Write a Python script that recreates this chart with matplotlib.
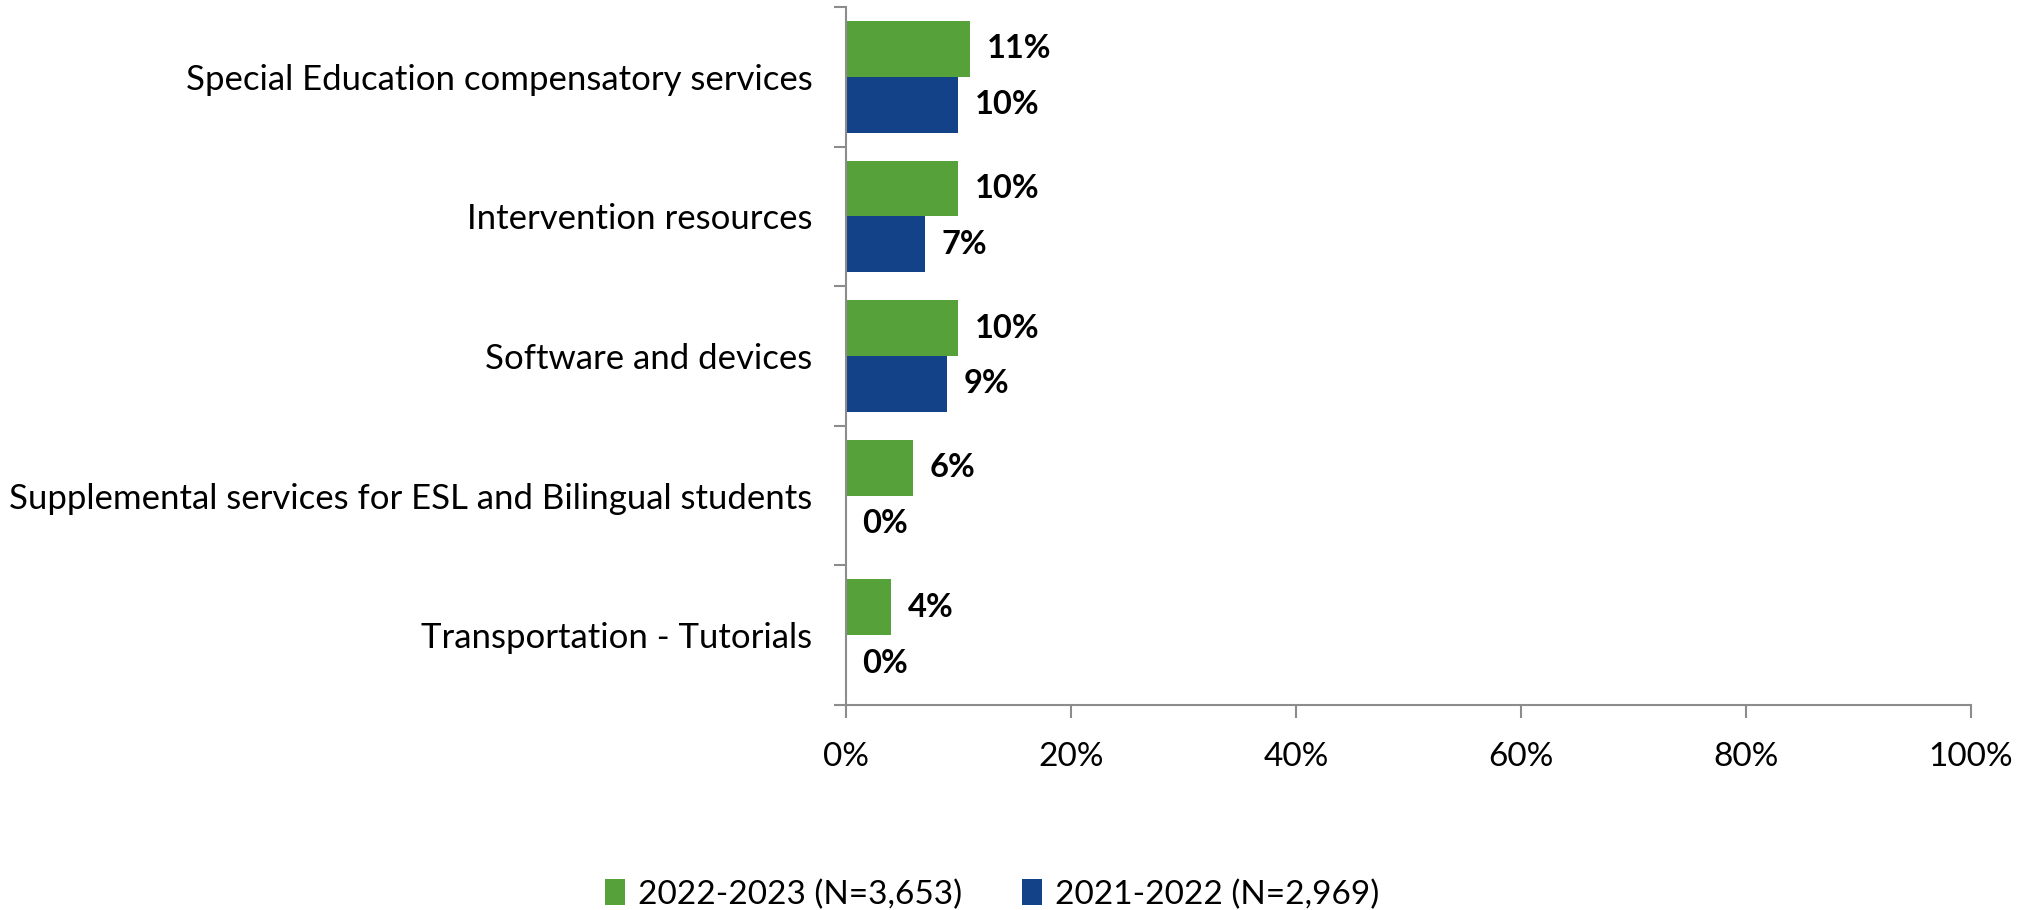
import matplotlib
matplotlib.use("Agg")
import matplotlib.pyplot as plt
import numpy as np

categories = [
    "Special Education compensatory services",
    "Intervention resources",
    "Software and devices",
    "Supplemental services for ESL and Bilingual students",
    "Transportation - Tutorials",
]
vals_2023 = [11, 10, 10, 6, 4]
vals_2022 = [10, 7, 9, 0, 0]
series_names = ["2022-2023 (N=3,653)", "2021-2022 (N=2,969)"]
xticks = [0, 20, 40, 60, 80, 100]

green = "#56A13A"
blue = "#144288"
gray = "#8C8C8C"

plt.rcParams['font.family'] = ['Lato', 'DejaVu Sans']

fig = plt.figure(figsize=(20.33, 9.10), dpi=100)
ax = fig.add_axes([0.4161, 0.2253, 0.5534, 0.7670])

n = len(categories)
y = np.arange(n)
h = 0.4
b1 = ax.barh(y - h / 2, vals_2023, height=h, color=green, label=series_names[0])
b2 = ax.barh(y + h / 2, vals_2022, height=h, color=blue, label=series_names[1])

for bars, vals in ((b1, vals_2023), (b2, vals_2022)):
    for bar, v in zip(bars, vals):
        ax.annotate(f"{v}%", (v, bar.get_y() + bar.get_height() / 2),
                    xytext=(12, 0), textcoords="offset points",
                    ha="left", va="center", fontsize=23.5, fontweight="bold", color="black")

ax.set_ylim(n - 0.5, -0.5)
ax.set_xlim(0, 100)
ax.set_xticks(xticks)
ax.set_xticklabels([f"{t}%" for t in xticks], fontsize=24)
ax.set_yticks(np.arange(n + 1) - 0.5, minor=False)
ax.set_yticklabels([])
ax.set_yticks(y, minor=True)
ax.set_yticklabels(categories, minor=True, fontsize=25)
ax.tick_params(axis="y", which="minor", length=0, pad=24)
ax.tick_params(axis="y", which="major", length=9, width=1.5, color=gray)
ax.tick_params(axis="x", length=9, width=1.5, color=gray, pad=18)

for s in ("top", "right"):
    ax.spines[s].set_visible(False)
for s in ("left", "bottom"):
    ax.spines[s].set_color(gray)
    ax.spines[s].set_linewidth(1.5)

fig.legend(handles=[b1, b2], labels=series_names, loc="center", bbox_to_anchor=(0.488, 0.017),
           ncol=2, frameon=False, fontsize=24, handlelength=0.6, handleheight=0.8,
           columnspacing=1.8, handletextpad=0.4)

fig.savefig("out.png", dpi=100)
